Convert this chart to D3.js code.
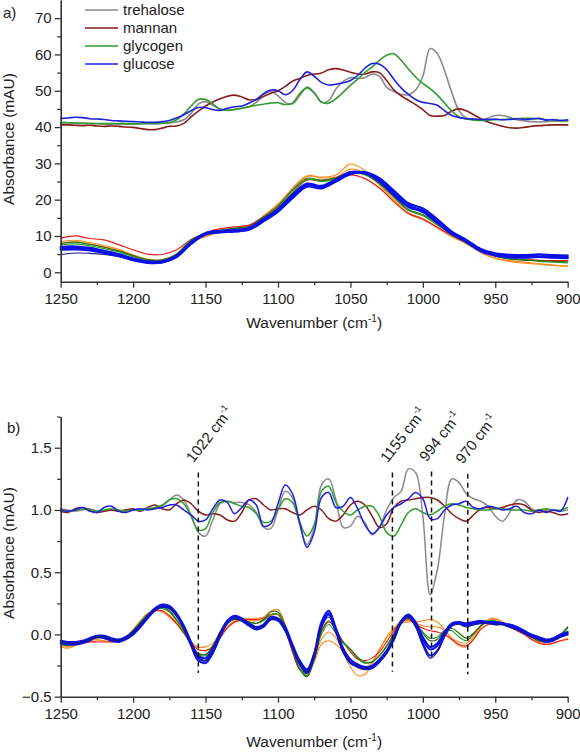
<!DOCTYPE html>
<html><head><meta charset="utf-8">
<script src="https://cdn.jsdelivr.net/npm/d3@7"></script>
<style>
body{margin:0;background:#fff}
svg{display:block}
text{font-family:Arial,"Liberation Sans",sans-serif;fill:#222}
</style>
</head><body>
<svg id="c" width="580" height="752"></svg>
<script>
// ---------- wavenumber grids ----------
const wave5 = [1250,1245,1240,1235,1230,1225,1220,1215,1210,1205,
  1200,1195,1190,1185,1180,1175,1170,1165,1160,1155,
  1150,1145,1140,1135,1130,1125,1120,1115,1110,1105,
  1100,1095,1090,1085,1080,1075,1070,1065,1060,1055,
  1050,1045,1040,1035,1030,1025,1020,1015,1010,1005,
  1000,995,990,985,980,975,970,965,960,955,
  950,945,940,935,930,925,920,915,910,905,900];
const wave10 = [1250,1240,1230,1220,1210,1200,1190,1180,1170,1160,
  1150,1140,1130,1120,1110,1100,1090,1080,1070,1060,
  1050,1040,1030,1020,1010,1000,990,980,970,960,
  950,940,930,920,910,900];

// ---------- panel a : reference spectra (mAU) ----------
const aTrehalose = [41.2,41.2,41.1,41.0,41.0,40.9,40.8,40.7,40.7,40.8,
  40.8,40.9,41.0,41.0,41.1,41.2,41.4,42.0,43.8,46.3,
  47.0,46.0,45.0,44.7,44.9,45.2,45.6,46.8,48.8,49.8,
  48.6,46.8,46.4,48.6,51.0,49.5,46.8,47.3,50.5,52.6,
  53.6,53.4,53.6,54.6,54.0,51.0,49.8,49.0,48.9,50.2,
  54.0,61.6,60.2,55.5,49.5,44.5,42.5,42.2,42.0,42.5,
  43.2,43.2,42.7,42.0,41.7,41.5,41.4,41.5,41.6,41.7,41.7];
const aMannan = [40.6,40.6,40.5,40.4,40.5,40.3,40.2,40.3,40.2,40.0,
  39.9,39.6,39.3,39.3,39.7,40.2,40.3,41.0,42.8,44.4,
  45.8,46.9,47.8,48.5,48.8,48.3,47.5,47.6,48.4,49.3,
  50.0,51.2,52.6,53.4,54.2,54.6,54.9,55.8,56.1,55.7,
  55.1,54.6,54.6,55.2,55.0,52.8,50.2,48.6,47.4,46.2,
  44.8,43.2,43.0,43.2,44.4,45.0,44.5,43.4,42.3,41.4,
  40.8,40.2,39.8,39.7,39.9,40.2,40.4,40.5,40.6,40.6,40.6];
const aGlycogen = [41.2,41.2,41.1,41.1,41.0,41.0,41.0,41.0,41.0,41.0,
  40.9,40.9,41.0,40.9,41.0,41.2,42.0,43.6,45.8,47.6,
  47.6,46.4,44.9,44.6,44.8,45.2,45.6,46.0,46.3,46.6,
  46.7,46.2,46.6,49.2,50.8,49.4,46.9,46.6,47.8,49.6,
  51.5,53.2,55.0,56.6,58.4,59.8,60.2,58.4,56.0,53.8,
  52.0,50.6,48.8,46.6,44.4,42.8,42.2,41.9,41.8,41.9,
  42.0,42.1,42.2,42.3,42.4,42.4,42.3,42.1,41.9,41.8,41.7];
const aGlucose = [42.4,42.5,42.7,42.6,42.3,42.2,42.1,41.8,41.7,41.6,
  41.5,41.4,41.3,41.3,41.5,41.8,42.5,43.4,44.5,45.4,
  45.3,44.8,44.6,45.2,45.6,45.8,46.6,47.6,49.2,50.2,
  50.0,48.9,50.0,53.0,55.2,54.0,52.3,51.6,51.8,52.2,
  52.8,54.2,56.2,57.5,57.3,55.8,53.2,50.8,49.0,47.6,
  46.8,46.5,46.0,44.5,43.2,42.6,42.3,42.2,42.1,42.1,
  42.2,42.0,42.1,42.3,42.1,42.2,42.4,41.9,42.1,41.8,42.0];

// ---------- panel a : sample spectra (mAU, 10 cm-1 grid) ----------
const aSampleBlue1 = [6.6,6.7,6.3,5.6,4.8,3.6,2.8,2.8,4.4,8.0, 10.6,11.2,11.5,12.0,14.4,17.0,20.8,24.0,23.4,25.3, 27.2,27.4,25.4,21.8,18.3,17.0,14.0,10.8,8.6,6.0, 4.9,4.4,4.3,4.4,4.3,4.2];
const aSampleBlue2 = [6.2,6.3,6.0,5.3,4.5,3.3,2.6,2.7,4.2,7.8, 10.4,11.0,11.2,11.7,14.0,16.7,20.4,23.6,23.1,25.0, 27.0,27.6,25.9,22.5,19.0,17.6,14.6,11.2,8.9,6.4, 5.2,4.8,4.7,4.9,4.7,4.6];
const aSampleBlue3 = [7.0,7.1,6.7,5.9,5.0,3.8,3.0,3.0,4.6,8.3, 10.8,11.4,11.7,12.2,14.7,17.4,21.4,24.4,23.8,25.6, 27.6,27.3,25.0,21.3,18.0,16.6,13.6,10.5,8.3,5.8, 4.6,4.1,4.0,4.2,4.0,3.9];
const aSampleNavy = [4.9,5.3,5.2,4.9,4.3,3.3,2.6,2.6,4.1,7.8, 10.5,11.0,11.3,11.8,14.2,16.9,20.6,23.6,23.2,24.9, 27.0,27.2,25.6,22.2,18.8,17.6,14.5,11.0,8.6,6.2, 5.1,4.7,4.6,4.9,4.7,4.5];
const aSampleGreen = [7.6,7.8,7.3,6.5,5.6,4.3,3.3,3.3,5.0,8.6, 10.4,11.4,12.0,12.6,15.0,17.9,22.0,25.6,25.0,25.8, 27.4,26.8,24.4,20.6,17.0,15.6,13.0,10.4,8.2,6.0, 4.5,3.8,3.5,3.0,2.8,2.6];
const aSampleDarkGreen = [8.0,8.3,7.7,6.9,5.9,4.6,3.5,3.4,5.0,8.9, 10.6,11.6,12.2,12.6,15.2,18.3,22.6,25.9,25.4,26.0, 27.6,27.0,24.6,20.9,17.3,15.9,13.4,10.6,8.3,6.0, 4.5,3.6,3.3,3.2,3.0,2.9];
const aSampleOrange1 = [8.4,8.8,8.2,7.3,6.3,4.8,3.6,3.4,4.8,8.4, 10.0,11.2,12.0,12.8,15.6,18.8,23.2,26.6,26.2,26.8, 29.8,28.0,24.2,20.0,16.4,14.8,12.4,10.0,8.0,5.6, 4.0,3.2,2.8,2.4,2.0,1.6];
const aSampleOrange2 = [7.8,8.4,7.8,7.0,6.0,4.6,3.5,3.3,4.8,8.2, 9.8,11.0,11.8,12.6,15.4,18.5,22.8,26.4,26.0,26.2, 28.4,27.4,24.0,19.8,16.2,14.6,12.2,9.8,7.8,5.4, 3.8,3.0,2.5,2.2,1.9,1.8];
const aSampleRed = [9.4,10.0,9.3,8.9,7.6,6.2,5.0,4.9,6.2,9.0, 10.8,12.0,12.5,13.0,15.2,17.8,21.8,25.4,25.2,26.0, 26.8,25.8,23.2,19.4,16.2,14.6,12.4,10.2,8.2,6.0, 4.6,3.8,3.6,3.3,3.2,3.2];

// ---------- panel b : reference derivative spectra ----------
const bTrehalose = [1.01,1.00,0.99,1.00,1.01,0.99,0.99,1.00,0.99,1.00,
  1.00,1.00,1.01,1.01,1.03,1.08,1.12,1.08,0.96,0.82,
  0.79,0.92,1.05,1.07,1.06,1.06,1.04,0.98,0.86,0.85,
  1.00,1.15,1.10,0.88,0.72,0.86,1.20,1.25,1.08,0.86,
  0.87,0.95,0.90,0.80,0.86,1.00,1.10,1.15,1.33,1.30,
  0.95,0.32,0.52,0.96,1.25,1.22,1.13,1.09,1.07,1.03,
  0.95,0.91,0.98,1.08,1.07,1.01,0.99,1.00,1.00,0.99,1.00];
const bMannan = [0.99,0.98,1.01,1.02,1.00,0.98,0.99,1.00,0.99,1.00,
  1.01,0.99,1.02,1.04,1.01,1.00,1.05,1.08,1.05,0.99,
  0.96,0.97,0.96,0.92,0.91,0.98,1.08,1.09,1.04,1.00,
  1.01,1.01,0.98,0.96,1.00,1.03,1.00,0.93,0.91,0.96,
  1.04,1.07,1.04,0.95,0.86,0.89,1.02,1.07,1.08,1.09,
  1.10,1.10,1.08,1.03,0.97,0.93,0.91,0.96,1.01,1.02,
  1.01,1.02,1.04,1.05,1.04,1.00,0.98,0.99,0.98,0.96,0.97];
const bGlycogen = [1.00,0.99,1.00,1.01,1.00,0.99,1.00,1.01,1.00,0.99,
  1.00,1.00,1.01,1.02,1.04,1.08,1.09,1.05,0.95,0.84,
  0.85,0.98,1.06,1.07,1.05,1.03,1.02,0.97,0.90,0.91,
  1.00,1.09,1.06,0.90,0.79,0.88,1.15,1.19,1.06,0.99,
  0.96,1.00,1.03,1.03,0.95,0.82,0.79,0.88,0.98,1.01,
  0.98,0.96,0.99,1.03,1.05,1.04,1.02,1.01,1.00,1.00,
  1.01,1.01,1.00,1.00,1.00,0.99,1.00,1.01,1.00,1.00,1.02];
const bGlucose = [1.00,0.99,1.00,1.02,0.99,0.98,1.02,1.03,0.99,0.98,
  1.00,1.01,1.00,1.01,1.02,1.04,1.04,1.00,0.96,0.91,
  0.92,1.01,1.08,1.06,0.97,1.02,1.08,1.04,0.87,0.89,
  1.05,1.20,1.13,0.90,0.70,0.82,1.10,1.14,1.02,1.03,
  1.10,1.01,0.88,0.81,0.86,0.96,1.02,1.05,1.09,1.14,
  1.09,0.93,0.93,1.00,1.04,1.05,1.07,1.02,1.01,1.03,
  1.02,1.00,1.01,1.03,0.98,0.97,1.00,0.98,1.00,0.99,1.10];

// ---------- panel b : sample derivative spectra ----------
const bSampleBlue1 = [-0.06,-0.07,-0.07,-0.06,-0.04,-0.02,-0.02,-0.04,-0.05,-0.03,
  0.01,0.07,0.14,0.20,0.23,0.22,0.16,0.06,-0.07,-0.19,
  -0.21,-0.13,0.00,0.10,0.14,0.12,0.08,0.05,0.07,0.13,
  0.12,0.05,-0.09,-0.22,-0.29,-0.16,0.08,0.17,0.03,-0.13,
  -0.22,-0.25,-0.27,-0.27,-0.22,-0.14,-0.04,0.10,0.15,0.09,
  -0.04,-0.12,-0.09,0.01,0.08,0.09,0.08,0.09,0.10,0.10,
  0.09,0.09,0.07,0.05,0.02,-0.01,-0.03,-0.05,-0.04,-0.01,0.01];
const bSampleBlue2 = [-0.05,-0.06,-0.06,-0.05,-0.03,-0.01,-0.01,-0.03,-0.04,-0.02,
  0.02,0.08,0.15,0.21,0.24,0.23,0.17,0.07,-0.06,-0.17,
  -0.19,-0.11,0.01,0.11,0.15,0.13,0.09,0.06,0.08,0.14,
  0.13,0.06,-0.08,-0.21,-0.28,-0.15,0.10,0.19,0.05,-0.11,
  -0.20,-0.24,-0.26,-0.25,-0.20,-0.13,-0.02,0.11,0.16,0.10,
  -0.02,-0.10,-0.07,0.02,0.09,0.10,0.09,0.10,0.11,0.10,
  0.10,0.09,0.08,0.06,0.03,0.00,-0.02,-0.04,-0.03,0.00,0.02];
const bSampleBlue3 = [-0.07,-0.08,-0.08,-0.07,-0.05,-0.02,-0.03,-0.05,-0.06,-0.04,
  0.00,0.06,0.13,0.19,0.22,0.21,0.15,0.05,-0.09,-0.21,
  -0.23,-0.15,-0.02,0.09,0.13,0.11,0.07,0.04,0.06,0.12,
  0.11,0.03,-0.11,-0.24,-0.31,-0.18,0.06,0.16,0.02,-0.14,
  -0.23,-0.26,-0.28,-0.27,-0.22,-0.15,-0.04,0.09,0.14,0.07,
  -0.07,-0.17,-0.13,-0.01,0.07,0.09,0.07,0.08,0.09,0.09,
  0.08,0.08,0.06,0.04,0.01,-0.02,-0.04,-0.06,-0.05,-0.02,0.00];
const bSampleNavy = [-0.06,-0.07,-0.07,-0.06,-0.04,-0.02,-0.02,-0.04,-0.05,-0.03,
  0.01,0.07,0.14,0.20,0.22,0.21,0.15,0.05,-0.08,-0.19,
  -0.21,-0.14,-0.01,0.09,0.13,0.12,0.08,0.05,0.07,0.12,
  0.12,0.03,-0.10,-0.23,-0.30,-0.17,0.06,0.14,0.02,-0.13,
  -0.22,-0.25,-0.27,-0.26,-0.21,-0.14,-0.03,0.10,0.14,0.06,
  -0.09,-0.19,-0.14,-0.02,0.07,0.08,0.06,0.08,0.09,0.09,
  0.08,0.08,0.06,0.04,0.02,-0.01,-0.04,-0.05,-0.04,-0.02,0.00];
const bSampleGreen = [-0.08,-0.09,-0.08,-0.06,-0.04,-0.03,-0.03,-0.05,-0.05,-0.02,
  0.03,0.10,0.16,0.20,0.21,0.18,0.11,0.02,-0.08,-0.16,
  -0.17,-0.10,0.01,0.09,0.12,0.11,0.10,0.09,0.11,0.16,
  0.16,0.06,-0.12,-0.27,-0.33,-0.20,0.00,0.08,0.01,-0.07,
  -0.12,-0.18,-0.22,-0.22,-0.17,-0.10,0.00,0.10,0.13,0.09,
  0.02,-0.03,-0.02,0.03,0.03,-0.02,-0.05,0.00,0.07,0.11,
  0.11,0.09,0.07,0.04,0.01,-0.02,-0.05,-0.06,-0.04,-0.01,0.05];
const bSampleDarkGreen = [-0.07,-0.08,-0.08,-0.06,-0.04,-0.02,-0.03,-0.05,-0.05,-0.02,
  0.03,0.09,0.15,0.20,0.22,0.19,0.12,0.03,-0.08,-0.15,
  -0.16,-0.09,0.02,0.10,0.12,0.11,0.10,0.09,0.12,0.18,
  0.18,0.07,-0.12,-0.28,-0.34,-0.20,0.03,0.11,0.03,-0.06,
  -0.12,-0.19,-0.23,-0.22,-0.17,-0.09,0.01,0.11,0.13,0.08,
  0.01,-0.05,-0.04,0.03,0.05,0.01,-0.03,0.01,0.07,0.10,
  0.10,0.09,0.07,0.05,0.02,-0.02,-0.05,-0.06,-0.04,0.00,0.06];
const bSampleOrange1 = [-0.10,-0.11,-0.09,-0.07,-0.06,-0.05,-0.05,-0.06,-0.05,-0.02,
  0.04,0.11,0.17,0.19,0.18,0.14,0.08,0.01,-0.06,-0.10,
  -0.10,-0.07,-0.01,0.06,0.11,0.12,0.13,0.13,0.14,0.19,
  0.20,0.08,-0.12,-0.28,-0.31,-0.20,-0.04,0.02,-0.03,-0.14,
  -0.26,-0.33,-0.32,-0.24,-0.13,-0.03,0.04,0.09,0.10,0.10,
  0.11,0.12,0.10,0.04,-0.04,-0.09,-0.10,-0.04,0.06,0.12,
  0.13,0.10,0.07,0.04,0.01,-0.03,-0.06,-0.08,-0.07,-0.05,-0.03];
const bSampleOrange2 = [-0.09,-0.10,-0.09,-0.07,-0.05,-0.04,-0.05,-0.06,-0.05,-0.03,
  0.03,0.10,0.16,0.19,0.19,0.15,0.09,0.01,-0.07,-0.12,
  -0.13,-0.09,-0.02,0.06,0.10,0.11,0.11,0.11,0.12,0.15,
  0.16,0.05,-0.13,-0.28,-0.32,-0.22,-0.08,-0.05,-0.08,-0.14,
  -0.22,-0.27,-0.28,-0.22,-0.12,-0.02,0.05,0.10,0.11,0.09,
  0.07,0.06,0.06,0.03,-0.03,-0.06,-0.07,-0.02,0.06,0.11,
  0.12,0.10,0.07,0.04,0.01,-0.03,-0.06,-0.08,-0.07,-0.05,-0.04];
const bSampleRed = [-0.08,-0.09,-0.08,-0.07,-0.06,-0.06,-0.06,-0.06,-0.05,-0.02,
  0.03,0.10,0.16,0.19,0.19,0.15,0.09,0.01,-0.07,-0.12,
  -0.13,-0.10,-0.03,0.05,0.10,0.12,0.12,0.12,0.13,0.16,
  0.16,0.04,-0.14,-0.28,-0.30,-0.18,0.02,0.10,0.04,-0.06,
  -0.14,-0.20,-0.21,-0.19,-0.14,-0.06,0.03,0.10,0.12,0.08,
  0.05,0.03,0.02,0.00,-0.04,-0.08,-0.09,-0.04,0.04,0.08,
  0.09,0.08,0.06,0.03,0.00,-0.04,-0.07,-0.08,-0.07,-0.05,-0.04];

// ---------- ticks, labels, annotations ----------
const xMajor = [1250,1200,1150,1100,1050,1000,950,900];
const xMinor = [1225,1175,1125,1075,1025,975,925];
const yMajorA = [0,10,20,30,40,50,60,70];
const yMinorA = [5,15,25,35,45,55,65];
const yMajorB = [-0.5,0.0,0.5,1.0,1.5];
const yMinorB = [-0.25,0.25,0.75,1.25,1.75];
const legendNames = ["trehalose","mannan","glycogen","glucose"];
const annotPos = [1155,1021,994,969];
const annotText = ["1022","1155","994","970"];
const annotTop = [1.30,1.30,1.31,1.29];
const annotBottom = [-0.31,-0.30,-0.19,-0.32];

// ---------- colours ----------
const cGray="#8a8a8a", cMannan="#8b1a1a", cGly="#2e9e2e", cGlu="#2020e0";
const cBlue="#0a10e8", cNavy="#1c1c8c", cGreen="#22a022", cDkGreen="#2f6e10", cOrange="#ff8a1c", cRed="#ee1a1a";

const svg = d3.select("#c");
const X0 = 60.7, X1 = 567.7;
const xA = d3.scaleLinear().domain([1250,900]).range([X0,X1]);
const yA = d3.scaleLinear().domain([-2.6,75]).range([281.7,0]);
const xB = d3.scaleLinear().domain([1250,900]).range([X0,X1]);
const yB = d3.scaleLinear().domain([-0.5,1.75]).range([696.7,416.6]);

function drawSeries(x, y, grid, list){
  const line = d3.line().x((d,i)=>x(grid[i])).y(d=>y(d)).curve(d3.curveCatmullRom.alpha(0.5));
  svg.append("g").selectAll("path").data(list).join("path")
    .attr("d", d=>line(d.v)).attr("fill","none")
    .attr("stroke", d=>d.c).attr("stroke-width", d=>d.w)
    .attr("stroke-linejoin","round").attr("stroke-linecap","round");
}

// panel a samples
drawSeries(xA, yA, wave10, [
  {v:aSampleOrange2,c:cOrange,w:1.1},{v:aSampleOrange1,c:cOrange,w:1.1},
  {v:aSampleRed,c:cRed,w:1.2},
  {v:aSampleGreen,c:cGreen,w:1.2},{v:aSampleDarkGreen,c:cDkGreen,w:1.2},
  {v:aSampleNavy,c:cNavy,w:1.1},
  {v:aSampleBlue2,c:cBlue,w:2.2},{v:aSampleBlue3,c:cBlue,w:2.2},{v:aSampleBlue1,c:cBlue,w:2.2}
]);
// panel a references
drawSeries(xA, yA, wave5, [
  {v:aTrehalose,c:cGray,w:1.6},{v:aMannan,c:cMannan,w:1.6},
  {v:aGlycogen,c:cGly,w:1.6},{v:aGlucose,c:cGlu,w:1.6}
]);
// panel b samples
drawSeries(xB, yB, wave5, [
  {v:bSampleOrange2,c:cOrange,w:1.1},{v:bSampleOrange1,c:cOrange,w:1.1},
  {v:bSampleRed,c:cRed,w:1.1},
  {v:bSampleGreen,c:cGreen,w:1.2},{v:bSampleDarkGreen,c:cDkGreen,w:1.2},
  {v:bSampleBlue2,c:cBlue,w:2.0},{v:bSampleBlue3,c:cBlue,w:2.0},
  {v:bSampleBlue1,c:cBlue,w:2.0},{v:bSampleNavy,c:cNavy,w:1.2}
]);
// panel b references
drawSeries(xB, yB, wave5, [
  {v:bTrehalose,c:cGray,w:1.5},{v:bMannan,c:cMannan,w:1.5},
  {v:bGlycogen,c:cGly,w:1.5},{v:bGlucose,c:cGlu,w:1.5}
]);

// annotations (dashed lines + rotated labels)
const ann = svg.append("g");
annotPos.forEach((p,i)=>{
  ann.append("line").attr("x1",xB(p)).attr("x2",xB(p))
    .attr("y1",yB(annotTop[i])).attr("y2",yB(annotBottom[i]))
    .attr("stroke","#111").attr("stroke-width",1.5).attr("stroke-dasharray","5,4");
  const t = ann.append("text")
    .attr("transform",`translate(${xB(p)-5},${yB(annotTop[i])-9}) rotate(-52)`)
    .attr("font-size",15);
  t.append("tspan").text(annotText[i]+" cm");
  t.append("tspan").attr("font-size",9).attr("dy",-7).text("-1");
});

// axes
function axes(x, y, yMaj, yMin, yFmt){
  const base = y.range()[0];
  const gx = svg.append("g").attr("transform",`translate(0,${base})`)
    .call(d3.axisBottom(x).tickValues(xMajor).tickSize(6).tickPadding(6).tickSizeOuter(0).tickFormat(d3.format("d")));
  const gxm = svg.append("g").attr("transform",`translate(0,${base})`)
    .call(d3.axisBottom(x).tickValues(xMinor).tickSize(3.5).tickSizeOuter(0).tickFormat(""));
  gxm.select(".domain").remove();
  const gy = svg.append("g").attr("transform",`translate(${X0},0)`)
    .call(d3.axisLeft(y).tickValues(yMaj).tickSize(6).tickPadding(3).tickSizeOuter(0).tickFormat(yFmt));
  const gym = svg.append("g").attr("transform",`translate(${X0},0)`)
    .call(d3.axisLeft(y).tickValues(yMin).tickSize(3.5).tickSizeOuter(0).tickFormat(""));
  gym.select(".domain").remove();
  [gx,gxm,gy,gym].forEach(g=>{
    g.attr("color","#333").attr("font-size",15).attr("font-family","Arial, 'Liberation Sans', sans-serif");
    g.selectAll("line").attr("stroke-width",1.3);
    g.select(".domain").attr("stroke-width",1.6);
    g.selectAll("text").attr("fill","#222");
  });
}
axes(xA, yA, yMajorA, yMinorA, d3.format("d"));
axes(xB, yB, yMajorB, yMinorB, d3.format(".1f"));

// axis titles
function xTitle(yPos){
  const t = svg.append("text").attr("x",(X0+X1)/2).attr("y",yPos)
    .attr("text-anchor","middle").attr("font-size",15.5);
  t.append("tspan").text("Wavenumber (cm");
  t.append("tspan").attr("font-size",10).attr("dy",-6).text("-1");
  t.append("tspan").attr("dy",6).text(")");
}
xTitle(328); xTitle(747);
function yTitle(cy){
  svg.append("text").attr("transform",`translate(14,${cy}) rotate(-90)`)
    .attr("text-anchor","middle").attr("font-size",15.5).text("Absorbance (mAU)");
}
yTitle(139); yTitle(553);

// panel labels
svg.append("text").attr("x",3).attr("y",18).attr("font-size",15).text("a)");
svg.append("text").attr("x",7).attr("y",433).attr("font-size",15).text("b)");

// legend
const legColors = [cGray,cMannan,cGly,cGlu];
const lg = svg.append("g");
legendNames.forEach((n,i)=>{
  const yy = 10 + i*18;
  lg.append("line").attr("x1",85).attr("x2",118).attr("y1",yy).attr("y2",yy)
    .attr("stroke",legColors[i]).attr("stroke-width",1.6);
  lg.append("text").attr("x",123).attr("y",yy).attr("dy","0.35em").attr("font-size",15).text(n);
});
</script>
</body></html>
